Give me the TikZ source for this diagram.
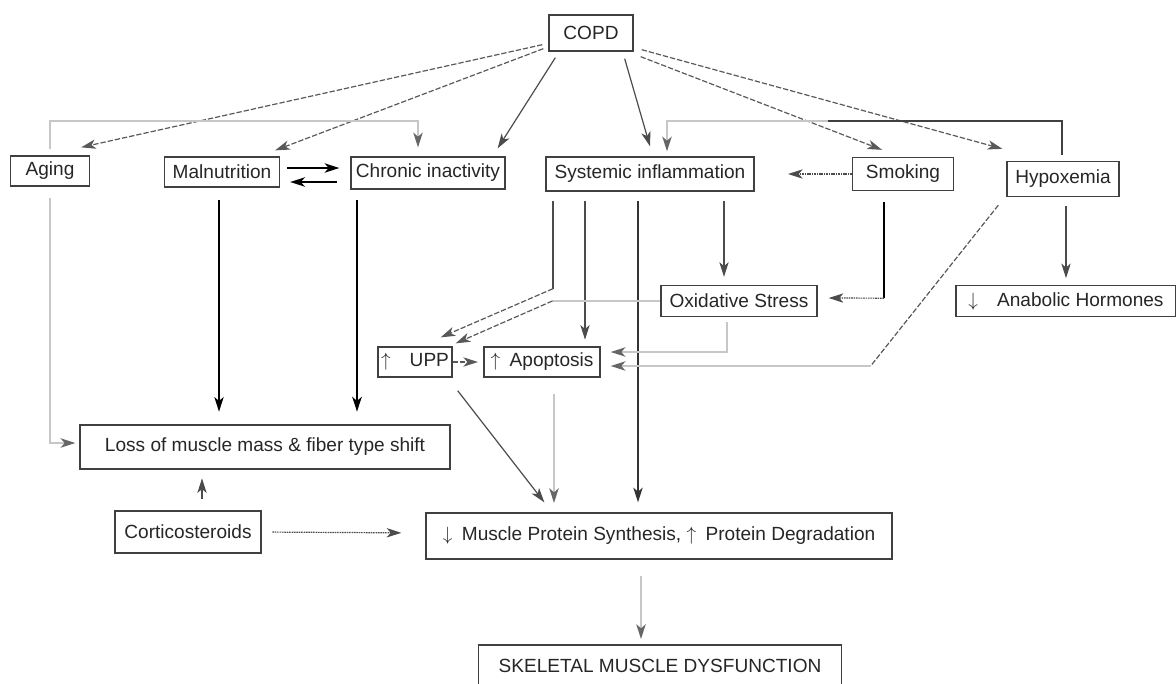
\documentclass[tikz,border=0pt]{standalone}
\usepackage{fontspec}
\setmainfont{Liberation Sans}
\usetikzlibrary{arrows.meta,calc}

\tikzset{
    box/.style={draw=black!75, line width=1pt, inner sep=1pt, text=black!85,
        font=\fontsize{14.3}{17}\selectfont},
    tip/.style={-{Stealth[length=11pt,width=7pt,inset=3pt]}},
    darkline/.style={tip, draw=black!70, line width=0.9pt},
    blackline/.style={tip, draw=black, line width=1.4pt},
    heavyline/.style={tip, draw=black, line width=2.1pt},
    dashline/.style={tip, draw=black!65, line width=0.9pt, dash pattern=on 4pt off 1.5pt},
    dotline/.style={tip, draw=black!70, line width=0.9pt, dash pattern=on 1.2pt off 0.6pt},
    pale/.style={draw=black!22, line width=1.4pt},
    paletip/.style={pale, -{Stealth[length=11pt,width=7pt,inset=3pt,color=black!60]}},
}

\begin{document}
\begin{tikzpicture}[x=0.75pt, y=-0.75pt]
    \path[use as bounding box, clip] (0,0) rectangle (1176,683);
    % Draw boxes
    \foreach \name/\x/\y/\w/\h/\txt in {
        copd/591/33/84/36/{COPD},
        aging/50/171/79/30/{Aging},
        maln/222/172/115/30/{Malnutrition},
        inact/428/173/154/32/{Chronic inactivity},
        sysinf/650/174/208/34/{Systemic inflammation},
        smok/903/174/101/33/{Smoking},
        hypox/1063/179/112/35/{Hypoxemia},
        oxid/739/301/156/31/{Oxidative Stress},
        anab/1066/301/220/31/{$\downarrow$\quad Anabolic Hormones},
        upp/415/362/74/30/{$\uparrow$\quad UPP},
        apop/542/362/116/30/{$\uparrow$\enspace Apoptosis},
        loss/265/447/370/44/{Loss of muscle mass \& fiber type shift},
        cort/188/532/146/42/{Corticosteroids},
        mps/659/536/466/46/{$\downarrow$\enspace Muscle Protein Synthesis, $\uparrow$\enspace Protein Degradation},
        skel/660/666/363/42/{SKELETAL MUSCLE DYSFUNCTION}
    } {
        \node[box, minimum width=\w*0.75pt, minimum height=\h*0.75pt] (\name) at (\x,\y) {\txt};
    }
    % Draw arrows from COPD
    \draw[dashline] ($(copd.south west)+(-6,-7)$) -- ($(aging.north east)+(-9,-8)$);
    \draw[dashline] ($(copd.south west)+(-5,-3)$) -- ($(maln.north east)+(-5,-6)$);
    \draw[darkline] ($(copd.south west)+(7,6)$) -- ($(inact.north east)+(-8,-8)$);
    \draw[darkline] ($(copd.south east)+(-9,7)$) -- ($(sysinf.north)+(0,-10)$);
    \draw[dashline] ($(copd.south east)+(7,5)$) -- ($(smok.north)+(-21,-7)$);
    \draw[dashline] ($(copd.south east)+(8,-2)$) -- ($(hypox.north west)+(-4,-12)$);
    % Aging, malnutrition, inactivity
    \draw[paletip] ($(aging.north)+(0,-6)$) |- ($(inact.north)+(-10,-35)$) -- ($(inact.north)+(-10,-9)$);
    \draw[blackline] ($(maln.east)+(7,-4)$) -- ($(inact.west)+(-11,-5)$);
    \draw[blackline] ($(inact.west)+(-13,9)$) -- ($(maln.east)+(10,10)$);
    \coordinate (agedown) at ($(aging.south)+(0,11)$);
    \coordinate (malndown) at ($(maln.south)+(-3,12)$);
    \coordinate (inactdown) at ($(inact.south)+(-71,10)$);
    \draw[paletip] (agedown) |- ($(loss.west)+(-4,-4)$);
    \draw[blackline, shorten >=9.5pt] (malndown) -- (malndown |- loss.north);
    \draw[heavyline, shorten >=9.5pt] (inactdown) -- (inactdown |- loss.north);
    % Systemic inflammation
    \coordinate (infl1) at ($(sysinf.south)+(-97,9)$);
    \coordinate (infl2) at ($(sysinf.south)+(-65,9)$);
    \coordinate (infl3) at ($(sysinf.south)+(-12,9)$);
    \coordinate (infl4) at ($(sysinf.south)+(74,9)$);
    \draw[draw=black!70, line width=0.9pt] (infl1) -- ++(0,88) coordinate (infl1bend);
    \draw[dashline] (infl1bend) -- ($(upp.north east)+(-12,-9)$);
    \draw[darkline, shorten >=5pt] (infl2) -- (infl2 |- apop.north);
    \draw[blackline, draw=black!80, line width=1.2pt, shorten >=7.5pt] (infl3) -- (infl3 |- mps.north);
    \draw[darkline, shorten >=6pt] (infl4) -- (infl4 |- oxid.north);
    % Oxidative stress
    \draw[pale] (oxid.west) -- ++(-108,0) coordinate (oxbend);
    \draw[dashline] (oxbend) -- ($(upp.north east)+(3,-3)$);
    \draw[paletip] ($(oxid.south)+(-12,5)$) |- ($(apop.east)+(10,-10)$);
    % Smoking
    \draw[dotline, shorten >=25pt] (smok.west) -- (sysinf.east);
    \coordinate (smokdown) at ($(smok.south)+(-19,11)$);
    \draw[heavyline, -] (smokdown) -- ++(0,96) coordinate (smokbend);
    \draw[dotline] (smokbend) -- ($(oxid.east)+(11,-3)$);
    % Hypoxemia
    \coordinate (hypdown) at ($(hypox.south)+(3,9)$);
    \coordinate (hyptop) at ($(hypox.north)+(-1,-6)$);
    \coordinate (hypbend) at ($(apop.east)+(270,4)$);
    \draw[darkline, shorten >=5pt] (hypdown) -- (hypdown |- anab.north);
    \draw[dashline, -] ($(hypox.south west)+(-8,8)$) -- (hypbend);
    \draw[paletip] (hypbend) -- ($(apop.east)+(10,4)$);
    \draw[draw=black!75, line width=1.4pt] (hyptop) |- ($(sysinf.north)+(178,-35)$) coordinate (feedbend);
    \draw[paletip] (feedbend) -- ($(sysinf.north)+(17,-35)$) -- ($(sysinf.north)+(17,-5)$);
    % UPP and apoptosis
    \draw[dashline, shorten >=4pt] (upp.east) -- (apop.west);
    \draw[darkline] ($(upp.south east)+(5,13)$) -- ($(mps.north west)+(119,-10)$);
    \coordinate (apopdown) at ($(apop.south)+(12,16)$);
    \draw[paletip, shorten >=7pt] (apopdown) -- (apopdown |- mps.north);
    % Corticosteroids
    \coordinate (cortup) at ($(cort.north)+(14,-11)$);
    \draw[darkline, shorten >=6.5pt] (cortup) -- (cortup |- loss.south);
    \draw[dotline, shorten <=8pt, shorten >=18pt] (cort.east) -- ($(mps.west)+(0,-3)$);
    % Down to dysfunction
    \coordinate (mpsdown) at ($(mps.south)+(-18,16)$);
    \draw[paletip, shorten >=4pt] (mpsdown) -- (mpsdown |- skel.north);
\end{tikzpicture}
\end{document}
